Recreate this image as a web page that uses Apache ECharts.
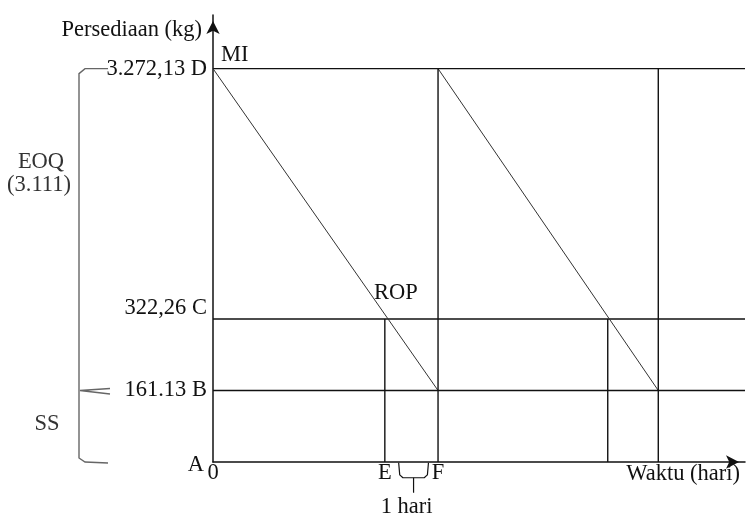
<!DOCTYPE html>
<html>
<head>
<meta charset="utf-8">
<script src="https://cdn.jsdelivr.net/npm/echarts@6/dist/echarts.min.js"></script>
<style>
html,body{margin:0;padding:0;background:#fff;}
#c{width:753px;height:530px;}
</style>
</head>
<body>
<div id="c"></div>
<script>
// ---- data (schematic inventory model, units) ----
// stock levels on the schematic vertical scale: A (0), B = SS, C = ROP, D = max inventory
const levelNames = ['A', 'B', 'C', 'D'];
const levelValues = ['', '161.13', '322,26', '3.272,13'];
const levelPos = [0, 1, 2, 5.5];
// time points (days, schematic): order moments and reorder points
const cycleStarts = [0, 4.23];       // inventory refilled to D
const cycleEnds = [4.23, 8.37];      // inventory reaches B (SS)
const reorderTimes = [3.23, 7.42];   // ROP reached (E and second one)
const xTickValues = [0, 3.23, 4.23];
const xTickLabels = ['0', 'E', 'F'];
const eoqLabel = ['EOQ', '(3.111)'];

const FONT = 'Liberation Serif';
const FS = 22.5;
const INK = '#111';
const yA = levelPos[0], yB = levelPos[1], yC = levelPos[2], yD = levelPos[3];
const X_MAX = 10, Y_MAX = 6.25;

const series = [];
const lineStyle = {color: INK, width: 1.4};
function seg(data, style, clip) {
  series.push({
    type: 'line', data: data, symbol: 'none', silent: true, clip: clip !== false,
    lineStyle: style || lineStyle, animation: false
  });
}
// horizontal levels B, C, D
[yB, yC, yD].forEach(v => seg([[0, v], [X_MAX, v]]));
// sawtooth usage lines
cycleStarts.forEach((s, i) => seg([[s, yD], [cycleEnds[i], yB]], {color: '#333', width: 1}));
// verticals at end of each cycle (refill)
cycleEnds.forEach(t => seg([[t, yA], [t, yD]]));
// verticals at reorder points
reorderTimes.forEach(t => seg([[t, yA], [t, yC]]));

// small brace for "1 hari" between E and F
const e = reorderTimes[0], f = cycleEnds[0];
const bL = e + 0.28, bR = f - 0.2, bM = (bL + bR) / 2;
const braceStyle = {color: INK, width: 1.2};
seg([[bL - 0.02, yA - 0.01], [bL, yA - 0.18], [bL + 0.06, yA - 0.22], [bR - 0.06, yA - 0.22], [bR, yA - 0.18], [bR + 0.02, yA - 0.01]], braceStyle, false);
seg([[bM, yA - 0.22], [bM, yA - 0.43]], braceStyle, false);

const rich = {
  l0: {fontFamily: FONT, fontSize: FS, color: INK, padding: [6, 3, 0, 0]},
  l1: {fontFamily: FONT, fontSize: FS, color: INK},
  l2: {fontFamily: FONT, fontSize: FS, color: INK, padding: [0, 0, 22, 0]},
  l3: {fontFamily: FONT, fontSize: FS, color: INK}
};

const chart = echarts.init(document.getElementById('c'), null, {renderer: 'canvas'});
chart.setOption({
  animation: false,
  backgroundColor: '#fff',
  grid: {left: 213, right: 8, top: 15, bottom: 68},
  xAxis: {
    type: 'value', min: 0, max: X_MAX,
    splitLine: {show: false},
    axisTick: {show: false},
    axisLine: {show: true, lineStyle: {color: INK, width: 1.5}, symbol: ['none', 'arrow'], symbolSize: [10, 13], symbolOffset: [0, -6]},
    axisLabel: {
      customValues: xTickValues,
      formatter: v => xTickLabels[xTickValues.indexOf(v)] || '',
      fontFamily: FONT, fontSize: FS, color: INK, margin: 0
    },
    name: 'Waktu (hari)', nameLocation: 'end', nameGap: -5,
    nameTextStyle: {fontFamily: FONT, fontSize: FS, color: INK, align: 'right', verticalAlign: 'top', padding: [1, 0, 0, 0]}
  },
  yAxis: {
    type: 'value', min: 0, max: Y_MAX,
    splitLine: {show: false},
    axisTick: {show: false},
    axisLine: {show: true, lineStyle: {color: INK, width: 1.5}, symbol: ['none', 'arrow'], symbolSize: [10, 13], symbolOffset: [0, -6]},
    axisLabel: {
      customValues: levelPos,
      formatter: v => {
        const i = levelPos.indexOf(v);
        if (i < 0) return '';
        const t = (levelValues[i] ? levelValues[i] + ' ' : '') + levelNames[i];
        return '{l' + i + '|' + t + '}';
      },
      rich: rich, margin: 6
    },
    name: 'Persediaan (kg)', nameLocation: 'end', nameGap: -15,
    nameTextStyle: {fontFamily: FONT, fontSize: FS, color: INK, align: 'right', verticalAlign: 'middle', padding: [0, 11, 0, 0]}
  },
  series: series
});

// annotations anchored to data positions
function px(x, y) { return chart.convertToPixel({gridIndex: 0}, [x, y]); }
const pD0 = px(0, yD), pC = px(reorderTimes[0], yC), pBrace = px(bM, yA);
const pTop = px(0, yD), pMid = px(0, yB), pBot = px(0, yA);
const bxPx = 79, bhPx = 108; // bracket column and hook end (left margin)
const txt = (x, y, s, color) => ({
  type: 'text', x: x, y: y, silent: true,
  style: {text: s, fontFamily: FONT, fontSize: FS, fill: color || INK, align: 'center', verticalAlign: 'middle'}
});
const gStroke = {stroke: '#666', lineWidth: 1.4, fill: null};
chart.setOption({
  graphic: [
    {type: 'polyline', silent: true, style: gStroke, shape: {points: [
      [bhPx, pTop[1]], [bxPx + 6, pTop[1]], [bxPx, pTop[1] + 5], [bxPx, pBot[1] - 4], [bxPx + 6, pBot[1]], [bhPx, pBot[1] + 1]
    ]}},
    {type: 'polyline', silent: true, style: gStroke, shape: {points: [[bhPx + 2, pMid[1] - 2], [bxPx + 1, pMid[1]], [bhPx + 2, pMid[1] + 3.5]]}},
    Object.assign(txt(pD0[0] + 8, pD0[1] - 14, 'MI'), {style: {text: 'MI', fontFamily: FONT, fontSize: FS, fill: INK, align: 'left', verticalAlign: 'middle'}}),
    txt(pC[0] + 11, pC[1] - 26, 'ROP'),
    txt(bxPx - 38, 162, eoqLabel[0], '#333'),
    txt(bxPx - 40, 185, eoqLabel[1], '#333'),
    txt(bxPx - 32, pMid[1] + 34, 'SS', '#333'),
    txt(pBrace[0] - 7, pBrace[1] + 45, '1 hari')
  ]
});
</script>
</body>
</html>
